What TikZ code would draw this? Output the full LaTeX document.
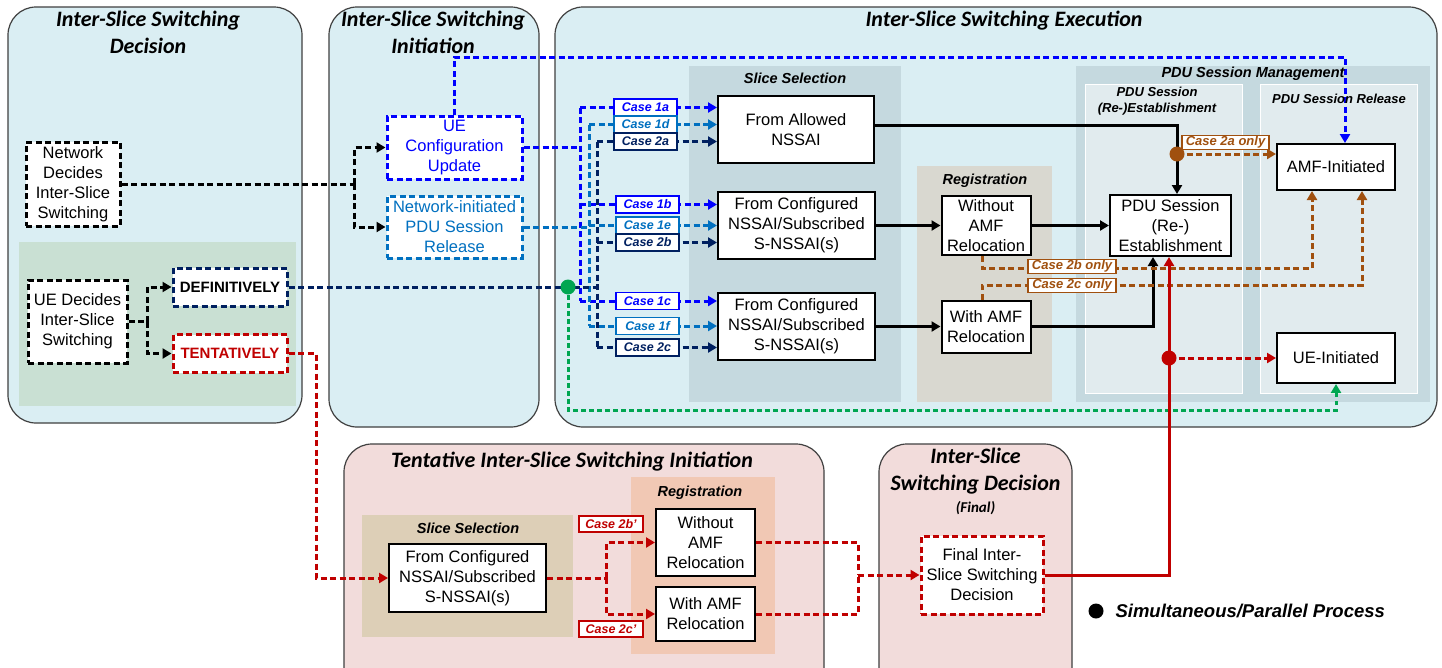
\documentclass[tikz,border=0pt]{standalone}
\usepackage{fontspec}
\setmainfont{Liberation Sans}
\newfontfamily\titlefont{Carlito}
\usetikzlibrary{arrows.meta,calc}
\pgfdeclarelayer{bg}
\pgfdeclarelayer{mid}
\pgfsetlayers{bg,mid,main}

\definecolor{pblue}{HTML}{DAEEF3}
\definecolor{ppink}{HTML}{F2DCDB}
\definecolor{rgreen}{HTML}{C9E0D3}
\definecolor{rslice}{HTML}{C5D9DF}
\definecolor{rreg}{HTML}{D9D8D0}
\definecolor{rsub}{HTML}{E1EBEE}
\definecolor{rtan}{HTML}{DDCFB7}
\definecolor{rsal}{HTML}{F1C8B4}
\definecolor{cblue}{HTML}{0000FF}
\definecolor{clblue}{HTML}{0070C0}
\definecolor{cnavy}{HTML}{002060}
\definecolor{cred}{HTML}{C00000}
\definecolor{cbrown}{HTML}{A0500F}
\definecolor{cgreen}{HTML}{00A651}
\definecolor{cframe}{HTML}{404040}

\tikzset{
  panel/.style={draw=cframe, line width=1.2pt, rounded corners=28pt},
  sbox/.style={draw=black, line width=2pt, fill=white, inner sep=0pt, align=center, font=\fontsize{16.5}{20}\selectfont},
  dbox/.style={draw, line width=3pt, dash pattern=on 6pt off 3.5pt, fill=white, inner sep=0pt, align=center, font=\fontsize{16.5}{20}\selectfont},
  conn/.style={line width=3pt, dash pattern=on 6pt off 3.5pt},
  dotted conn/.style={line width=3pt, dash pattern=on 4.5pt off 3.5pt},
  sol/.style={line width=3pt},
  tip/.style={-{Triangle[length=9pt,width=10pt]}},
  casebox/.style={draw, line width=1.2pt, fill=white, inner sep=0pt, minimum width=63pt, minimum height=17pt, font=\fontsize{12.5}{14}\selectfont\bfseries\itshape},
  onlybox/.style={draw=cbrown, text=cbrown, line width=1.2pt, fill=white, inner sep=0pt, minimum width=88pt, minimum height=14pt, font=\fontsize{13}{14}\selectfont\bfseries\itshape},
  ptitle/.style={font=\titlefont\fontsize{22}{27}\selectfont\bfseries\itshape, align=center},
  rtitle/.style={font=\fontsize{14.5}{16}\selectfont\bfseries\itshape, align=center},
  stitle/.style={font=\fontsize{13}{16}\selectfont\bfseries\itshape, align=center},
  pdot/.style={circle, inner sep=0pt, minimum size=15pt}
}

\begin{document}
\begin{tikzpicture}[x=1pt,y=-1pt]
\useasboundingbox (0,0) rectangle (1442,667);
\clip (0,0) rectangle (1442,667);

% ---------- backgrounds ----------
\begin{pgfonlayer}{bg}
\fill[white] (0,0) rectangle (1442,667);
\draw[panel, fill=pblue] (8,7) rectangle (302,423);
\fill[rgreen] (19,242) rectangle (296,406);
\draw[panel, fill=pblue] (329,7) rectangle (539,427);
\draw[panel, fill=pblue] (555,7) rectangle (1437,427);
\fill[rslice] (689,66) rectangle (901,402);
\fill[rreg] (917,166) rectangle (1052,402);
\fill[rslice] (1076,66) rectangle (1430,402);
\draw[white, line width=1pt, fill=rsub] (1085,84) rectangle (1242,393);
\draw[white, line width=1pt, fill=rsub] (1260,84) rectangle (1417,393);
\draw[panel, fill=ppink] (344,444) rectangle (824,720);
\fill[rtan] (362,515) rectangle (573,637);
\fill[rsal] (631,477) rectangle (775,654);
\draw[panel, fill=ppink] (879,444) rectangle (1072,720);
\end{pgfonlayer}

% ---------- titles ----------
\node[ptitle] (t1) at (148,32.5) {Inter-Slice Switching\\Decision};
\node[ptitle] (t2) at (433,32.5) {Inter-Slice Switching\\Initiation};
\node[ptitle] (t3) at (1004,21) {Inter-Slice Switching Execution};
\node[ptitle] (t4) at (572,462) {Tentative Inter-Slice Switching Initiation};
\node[ptitle] (t5) at (975.5,471.5) {Inter-Slice\\Switching Decision};
\node[font=\titlefont\fontsize{15}{18}\selectfont\bfseries\itshape] (t5b) at (975.5,508) {(Final)};
\node[rtitle] (r1) at (795,78) {Slice Selection};
\node[rtitle] (r2) at (985,181) {Registration};
\node[rtitle] (r3) at (1253,74) {PDU Session Management};
\node[stitle] (r4) at (1157,101) {PDU Session\\(Re-)Establishment};
\node[stitle] (r5) at (1339,99) {PDU Session Release};
\node[rtitle] (r6) at (468,528) {Slice Selection};
\node[rtitle] (r7) at (700,493) {Registration};

% ---------- nodes ----------
\node[dbox, minimum width=94pt, minimum height=84pt] (net) at (73,184) {Network\\Decides\\Inter-Slice\\Switching};
\node[dbox, minimum width=99pt, minimum height=83pt] (ued) at (77.5,321.5) {UE Decides\\Inter-Slice\\Switching};
\node[dbox, draw=cnavy, minimum width=114pt, minimum height=38pt, font=\fontsize{15}{17}\selectfont\bfseries] (def) at (230,287) {DEFINITIVELY};
\node[dbox, draw=cred, text=cred, minimum width=114pt, minimum height=38pt, font=\fontsize{15}{17}\selectfont\bfseries] (tent) at (230,353.5) {TENTATIVELY};
\node[dbox, draw=cblue, text=cblue, minimum width=135pt, minimum height=63pt] (ucu) at (454.5,147.5) {UE\\Configuration\\Update};
\node[dbox, draw=clblue, text=clblue, minimum width=135pt, minimum height=62pt] (npr) at (454.5,227) {Network-initiated\\PDU Session\\Release};

\node[sbox, minimum width=156pt, minimum height=67pt] (fa) at (796,129.5) {From Allowed\\NSSAI};
\node[sbox, minimum width=157pt, minimum height=67pt] (fc1) at (796.5,225.5) {From Configured\\NSSAI/Subscribed\\S-NSSAI(s)};
\node[sbox, minimum width=157pt, minimum height=67pt] (fc2) at (796.5,326.5) {From Configured\\NSSAI/Subscribed\\S-NSSAI(s)};
\node[sbox, minimum width=89pt, minimum height=59pt] (wam) at (986,225.5) {Without\\AMF\\Relocation};
\node[sbox, minimum width=89pt, minimum height=52pt] (wiam) at (986,326.5) {With AMF\\Relocation};
\node[sbox, minimum width=121pt, minimum height=61pt] (pdu) at (1170.5,225.5) {PDU Session\\(Re-)\\Establishment};
\node[sbox, minimum width=118pt, minimum height=46pt] (amf) at (1336,167) {AMF-Initiated};
\node[sbox, minimum width=118pt, minimum height=50pt] (uei) at (1336,358) {UE-Initiated};

\node[sbox, minimum width=157pt, minimum height=68pt] (tfc) at (467.5,578) {From Configured\\NSSAI/Subscribed\\S-NSSAI(s)};
\node[sbox, minimum width=99pt, minimum height=67pt] (twam) at (705.5,542.5) {Without\\AMF\\Relocation};
\node[sbox, minimum width=99pt, minimum height=54pt] (twiam) at (705.5,614) {With AMF\\Relocation};
\node[dbox, draw=cred, minimum width=122pt, minimum height=78pt] (final) at (982,575) {Final Inter-\\Slice Switching\\Decision};

% case labels
\node[casebox, draw=cblue, text=cblue] (L1a) at (645.5,107.5) {Case 1a};
\node[casebox, draw=clblue, text=clblue] (L1d) at (645.5,124.5) {Case 1d};
\node[casebox, draw=cnavy, text=cnavy] (L2a) at (645.5,141.5) {Case 2a};
\node[casebox, draw=cblue, text=cblue] (L1b) at (647.5,204.5) {Case 1b};
\node[casebox, draw=clblue, text=clblue] (L1e) at (647.5,225.5) {Case 1e};
\node[casebox, draw=cnavy, text=cnavy] (L2b) at (647.5,242.5) {Case 2b};
\node[casebox, draw=cblue, text=cblue] (L1c) at (647.5,301) {Case 1c};
\node[casebox, draw=clblue, text=clblue] (L1f) at (647.5,326) {Case 1f};
\node[casebox, draw=cnavy, text=cnavy] (L2c) at (647.5,347.5) {Case 2c};
\node[onlybox, minimum width=87pt] (B2a) at (1225.5,142.5) {Case 2a only};
\node[onlybox] (B2b) at (1072,266.5) {Case 2b only};
\node[onlybox] (B2c) at (1072,285.5) {Case 2c only};
\node[casebox, draw=cred, text=cred, minimum width=64pt, minimum height=16pt] (T2b) at (611,524) {Case 2b'};
\node[casebox, draw=cred, text=cred, minimum width=64pt, minimum height=16pt] (T2c) at (611,629) {Case 2c'};

% ---------- coordinates ----------
\coordinate (nb) at (354,184);
\coordinate (ub) at (147,321.5);
\coordinate (bA) at (580,0);
\coordinate (bB) at (589,0);
\coordinate (bC) at (597,0);
\coordinate (pt) at ($(pdu.north)+(6.5,0)$);
\coordinate (bdot) at (1177,154);
\coordinate (rdot) at (1169,358);
\coordinate (gdot) at (568,287);
\coordinate (tb) at (606,578);
\coordinate (mb) at (858,575);
\coordinate (topc) at (1345,57);

% ---------- connectors ----------
\begin{pgfonlayer}{mid}
% network decides
\draw[conn] (net.east) -- (nb);
\draw[conn,tip] (nb) |- (ucu.west);
\draw[conn,tip] (nb) |- (npr.west);
% UE decides
\draw[conn] (ued.east) -- (ub);
\draw[conn,tip] (ub) |- (def.west);
\draw[conn,tip] (ub) |- (tent.west);
% blue bus
\draw[conn,cblue] (ucu.east) -- (bA |- ucu.east);
\draw[conn,cblue] (bA |- L1a) -- (bA |- L1c);
\draw[conn,cblue,tip] (bA |- L1a) -- (L1a -| fa.west);
\draw[conn,cblue,tip] (bA |- L1b) -- (L1b -| fc1.west);
\draw[conn,cblue,tip] (bA |- L1c) -- (L1c -| fc2.west);
% light blue bus
\draw[conn,clblue] (npr.east) -- (bB |- npr.east);
\draw[conn,clblue] (bB |- L1d) -- (bB |- L1f);
\draw[conn,clblue,tip] (bB |- L1d) -- (L1d -| fa.west);
\draw[conn,clblue,tip] (bB |- L1e) -- (L1e -| fc1.west);
\draw[conn,clblue,tip] (bB |- L1f) -- (L1f -| fc2.west);
% navy bus
\draw[conn,cnavy] (def.east) -- (bC |- def.east);
\draw[conn,cnavy] (bC |- L2a) -- (bC |- L2c);
\draw[conn,cnavy,tip] (bC |- L2a) -- (L2a -| fa.west);
\draw[conn,cnavy,tip] (bC |- L2b) -- (L2b -| fc1.west);
\draw[conn,cnavy,tip] (bC |- L2c) -- (L2c -| fc2.west);
% blue top line to AMF-Initiated
\draw[conn,cblue,tip] (ucu.north) |- (topc) -- ($(amf.north)+(9,0)$);
% green
\draw[dotted conn,cgreen,tip] (gdot) |- ($(uei.south)+(0,26)$) -- (uei.south);
% black solid
\draw[sol,tip] ($(fa.east)+(0,-4.5)$) -| (pt);
\draw[sol,tip] (fc1.east) -- (wam.west);
\draw[sol,tip] (fc2.east) -- (wiam.west);
\draw[sol,tip] (wam.east) -- (pdu.west);
\draw[sol,tip] (wiam.east) -| ($(pdu.south)+(-17.5,0)$);
% brown
\draw[conn,cbrown,tip] (bdot) -- (amf.west |- bdot);
\draw[conn,cbrown,tip] ($(wam.south)+(-4,0)$) -- ++(0,12) -| ($(amf.south)+(-24,0)$);
\draw[conn,cbrown,tip] ($(wiam.north)+(-4,0)$) -- ++(0,-14.5) -| ($(amf.south)+(26,0)$);
% red solid and dashed
\draw[sol,cred,tip] (final.east) -| ($(pdu.south)+(-1.5,0)$);
\draw[conn,cred,tip] (rdot) -- (uei.west);
% tentative path
\draw[conn,cred,tip] (tent.east) -| (316,578) -- (tfc.west);
\draw[conn,cred] (tfc.east) -- (tb);
\draw[conn,cred,tip] (tb) |- (twam.west);
\draw[conn,cred,tip] (tb) |- (twiam.west);
\draw[conn,cred] (twam.east) -| (mb);
\draw[conn,cred] (twiam.east) -| (mb);
\draw[conn,cred,tip] (mb) -- (final.west);
\end{pgfonlayer}

% ---------- dots ----------
\node[pdot, fill=cgreen] (gd) at (gdot) {};
\node[pdot, fill=cbrown] (bd) at (bdot) {};
\node[pdot, fill=cred] (rd) at (rdot) {};

% legend
\node[pdot, fill=black] (ld) at (1096,611) {};
\node[anchor=west, font=\fontsize{18.5}{20}\selectfont\bfseries\itshape] (lt) at (1112,611) {Simultaneous/Parallel Process};
\end{tikzpicture}
\end{document}
